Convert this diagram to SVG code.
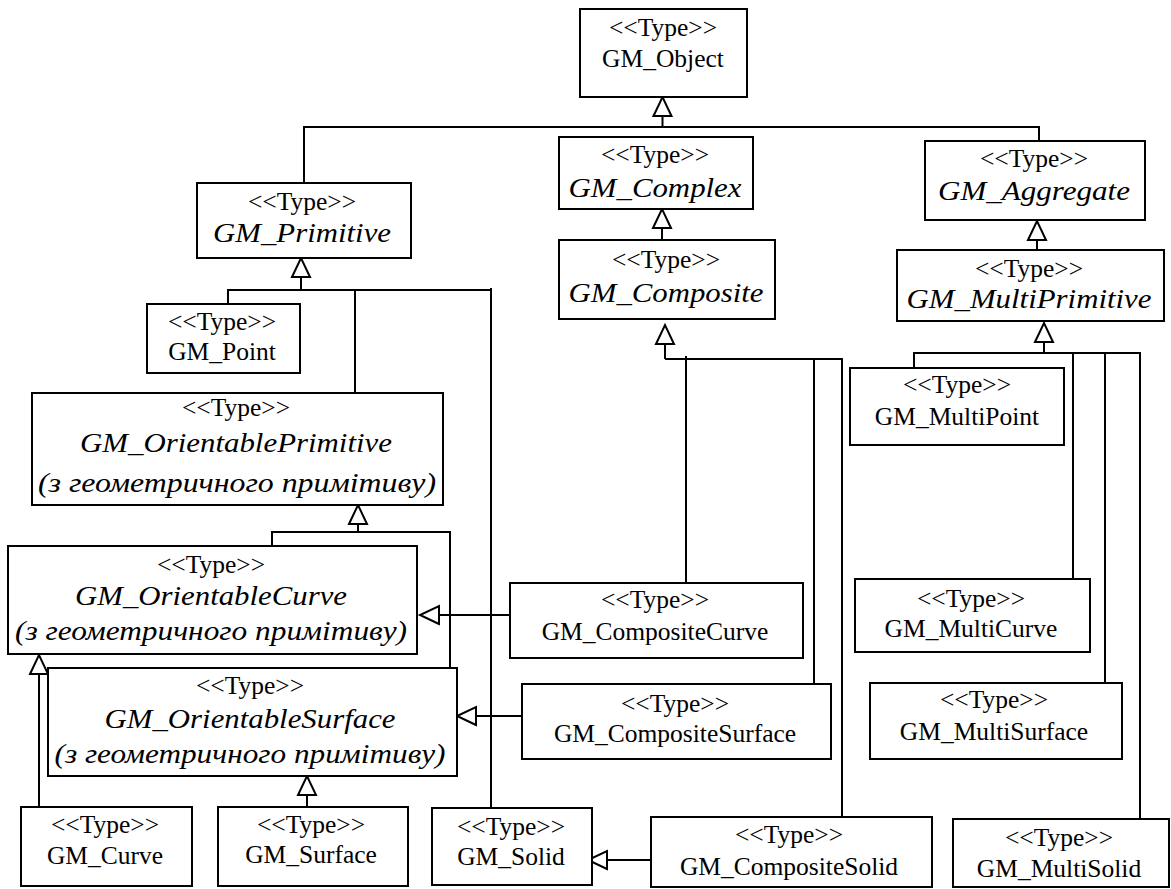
<svg xmlns="http://www.w3.org/2000/svg" width="1171" height="889" viewBox="0 0 1171 889">
<style>
rect{fill:#fff;stroke:#000;stroke-width:2}
text{font-family:"Liberation Serif","Times New Roman",serif;fill:#000;text-anchor:middle}
.r{font-size:25.5px}
.i{font-size:28px;font-style:italic}
.c path{fill:none;stroke:#000;stroke-width:2}
.g{marker-end:url(#tri)}
</style>
<defs>
<marker id="tri" viewBox="0 0 20 20" refX="20" refY="10" markerWidth="20" markerHeight="20" markerUnits="userSpaceOnUse" orient="auto" overflow="visible">
<path d="M1,1 L20,10 L1,19 Z" fill="#fff" stroke="#000" stroke-width="2"/>
</marker>
</defs>
<rect x="0" y="0" width="1171" height="889" style="stroke:none"/>
<g class="c" id="connectors">
<path d="M304,183 V127 H1039 V141"/>
<path class="g" d="M662.5,127 V97"/>
<path class="g" d="M662,240 V209"/>
<path d="M665,359 H842 V817 M686,356 V583 M814,359 V684"/>
<path class="g" d="M665,359 V325"/>
<path class="g" d="M1037,250 V221"/>
<path d="M914,368 V353 H1140 V819 M1073,353 V579 M1105,353 V683"/>
<path class="g" d="M1044,353 V323"/>
<path d="M228,304 V290 H491 V808 M355,290 V393 M491,288 V290"/>
<path class="g" d="M301,290 V258"/>
<path d="M272,546 V532 H450 V668"/>
<path class="g" d="M358,532 V505"/>
<path class="g" d="M39,807 V655"/>
<path class="g" d="M510,615 H420"/>
<path class="g" d="M522,716 H457"/>
<path class="g" d="M307,807 V776"/>
<path class="g" d="M652,860 H588"/>
</g>
<g id="GM_Object"><rect x="580" y="9" width="167" height="88"/><text class="r" x="663" y="36">&lt;&lt;Type&gt;&gt;</text><text class="r" x="663" y="67">GM_Object</text></g>
<g id="GM_Complex"><rect x="559" y="137" width="194" height="72"/><text class="r" x="655" y="163">&lt;&lt;Type&gt;&gt;</text><text class="i" x="655" y="197" textLength="173" lengthAdjust="spacingAndGlyphs">GM_Complex</text></g>
<g id="GM_Composite"><rect x="559" y="240" width="216" height="79"/><text class="r" x="666" y="268">&lt;&lt;Type&gt;&gt;</text><text class="i" x="666" y="302" textLength="195" lengthAdjust="spacingAndGlyphs">GM_Composite</text></g>
<g id="GM_Aggregate"><rect x="925" y="141" width="220" height="79"/><text class="r" x="1034" y="167">&lt;&lt;Type&gt;&gt;</text><text class="i" x="1034" y="200" textLength="192" lengthAdjust="spacingAndGlyphs">GM_Aggregate</text></g>
<g id="GM_MultiPrimitive"><rect x="897" y="250" width="267" height="71"/><text class="r" x="1029" y="277">&lt;&lt;Type&gt;&gt;</text><text class="i" x="1029" y="308" textLength="245" lengthAdjust="spacingAndGlyphs">GM_MultiPrimitive</text></g>
<g id="GM_Primitive"><rect x="197" y="183" width="214" height="75"/><text class="r" x="302" y="210">&lt;&lt;Type&gt;&gt;</text><text class="i" x="302" y="242" textLength="178" lengthAdjust="spacingAndGlyphs">GM_Primitive</text></g>
<g id="GM_Point"><rect x="147" y="304" width="153" height="69"/><text class="r" x="222" y="330">&lt;&lt;Type&gt;&gt;</text><text class="r" x="222" y="360">GM_Point</text></g>
<g id="GM_MultiPoint"><rect x="850" y="368" width="214" height="77"/><text class="r" x="957" y="393">&lt;&lt;Type&gt;&gt;</text><text class="r" x="957" y="425">GM_MultiPoint</text></g>
<g id="GM_OrientablePrimitive"><rect x="32" y="393" width="411" height="112"/><text class="r" x="236" y="416">&lt;&lt;Type&gt;&gt;</text><text class="i" x="236" y="452" textLength="312" lengthAdjust="spacingAndGlyphs">GM_OrientablePrimitive</text><text class="i" x="237" y="492" textLength="398" lengthAdjust="spacingAndGlyphs">(з геометричного примітиву)</text></g>
<g id="GM_OrientableCurve"><rect x="8" y="546" width="409" height="108"/><text class="r" x="211" y="573">&lt;&lt;Type&gt;&gt;</text><text class="i" x="211" y="605" textLength="272" lengthAdjust="spacingAndGlyphs">GM_OrientableCurve</text><text class="i" x="211" y="640" textLength="392" lengthAdjust="spacingAndGlyphs">(з геометричного примітиву)</text></g>
<g id="GM_OrientableSurface"><rect x="48" y="668" width="409" height="108"/><text class="r" x="250" y="694">&lt;&lt;Type&gt;&gt;</text><text class="i" x="250" y="728" textLength="291" lengthAdjust="spacingAndGlyphs">GM_OrientableSurface</text><text class="i" x="250" y="763" textLength="391" lengthAdjust="spacingAndGlyphs">(з геометричного примітиву)</text></g>
<g id="GM_CompositeCurve"><rect x="510" y="583" width="293" height="75"/><text class="r" x="655" y="608">&lt;&lt;Type&gt;&gt;</text><text class="r" x="655" y="640">GM_CompositeCurve</text></g>
<g id="GM_CompositeSurface"><rect x="522" y="684" width="309" height="75"/><text class="r" x="675" y="712">&lt;&lt;Type&gt;&gt;</text><text class="r" x="675" y="742">GM_CompositeSurface</text></g>
<g id="GM_MultiCurve"><rect x="855" y="579" width="235" height="73"/><text class="r" x="971" y="607">&lt;&lt;Type&gt;&gt;</text><text class="r" x="971" y="637">GM_MultiCurve</text></g>
<g id="GM_MultiSurface"><rect x="870" y="683" width="252" height="76"/><text class="r" x="994" y="708">&lt;&lt;Type&gt;&gt;</text><text class="r" x="994" y="740">GM_MultiSurface</text></g>
<g id="GM_Curve"><rect x="21" y="807" width="171" height="79"/><text class="r" x="105" y="833">&lt;&lt;Type&gt;&gt;</text><text class="r" x="105" y="864">GM_Curve</text></g>
<g id="GM_Surface"><rect x="218" y="807" width="190" height="79"/><text class="r" x="311" y="833">&lt;&lt;Type&gt;&gt;</text><text class="r" x="311" y="863">GM_Surface</text></g>
<g id="GM_Solid"><rect x="432" y="808" width="160" height="77"/><text class="r" x="511" y="835">&lt;&lt;Type&gt;&gt;</text><text class="r" x="511" y="865">GM_Solid</text></g>
<g id="GM_CompositeSolid"><rect x="651" y="817" width="281" height="70"/><text class="r" x="789" y="843">&lt;&lt;Type&gt;&gt;</text><text class="r" x="789" y="875">GM_CompositeSolid</text></g>
<g id="GM_MultiSolid"><rect x="953" y="819" width="216" height="68"/><text class="r" x="1059" y="846">&lt;&lt;Type&gt;&gt;</text><text class="r" x="1059" y="877">GM_MultiSolid</text></g>
</svg>
